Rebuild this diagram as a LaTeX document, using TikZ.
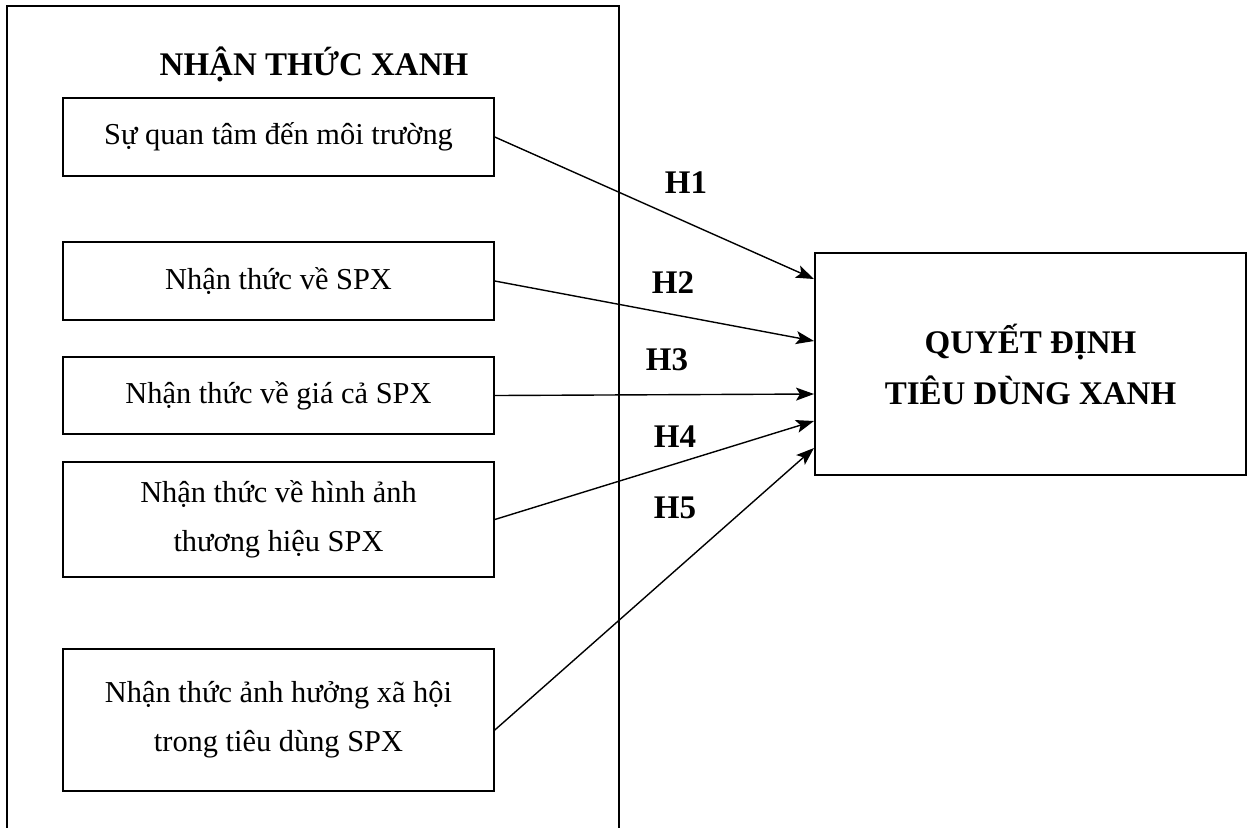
\documentclass[tikz,border=0pt]{standalone}
\usepackage{fontspec}
\setmainfont{Liberation Serif}
\usetikzlibrary{arrows.meta}
\tikzset{
    factor/.style={draw, line width=0.8pt, minimum width=215.5pt, inner sep=0pt, align=center, font=\fontsize{15.2}{24.5}\selectfont},
    hyp/.style={font=\fontsize{16.5}{25.5}\selectfont\bfseries},
    link/.style={-{Stealth[length=9pt, width=6.5pt, inset=2pt]}, line width=0.7pt},
}
\begin{document}
\begin{tikzpicture}[x=0.5pt, y=-0.5pt]
    \useasboundingbox (0,0) rectangle (1247,827);
    \draw[line width=1.2pt] (7,840) -- (7,6) -- (619,6) -- (619,840);
    \node[hyp, anchor=base] (title) at (314,75) {NHẬN THỨC XANH};
    \node[factor, minimum height=39pt] (f1) at (278.5,137) {Sự quan tâm đến môi trường};
    \node[factor, minimum height=39pt] (f2) at (278.5,281) {Nhận thức về SPX};
    \node[factor, minimum height=38.5pt] (f3) at (278.5,395.5) {Nhận thức về giá cả SPX};
    \node[factor, minimum height=57.5pt] (f4) at (278.5,519.5) {Nhận thức về hình ảnh\\thương hiệu SPX};
    \node[factor, minimum height=71pt] (f5) at (278.5,720) {Nhận thức ảnh hưởng xã hội\\trong tiêu dùng SPX};
    \node[hyp, draw, line width=1pt, minimum width=215.5pt, minimum height=111pt, align=center] (dv) at (1030.5,364) {QUYẾT ĐỊNH\\TIÊU DÙNG XANH};
    \draw[link] (f1.east) -- ([yshift=-13.5pt]dv.north west);
    \draw[link] (f2.east) -- ([yshift=-44.5pt]dv.north west);
    \draw[link] (f3.east) -- ([yshift=-71pt]dv.north west);
    \draw[link] (f4.east) -- ([yshift=-84.5pt]dv.north west);
    \draw[link] ([yshift=-5pt]f5.east) -- ([yshift=-98pt]dv.north west);
    \node[hyp] (h1) at (686,183) {H1};
    \node[hyp] (h2) at (673,283) {H2};
    \node[hyp] (h3) at (667,360) {H3};
    \node[hyp] (h4) at (675,437) {H4};
    \node[hyp] (h5) at (675,508) {H5};
\end{tikzpicture}
\end{document}
